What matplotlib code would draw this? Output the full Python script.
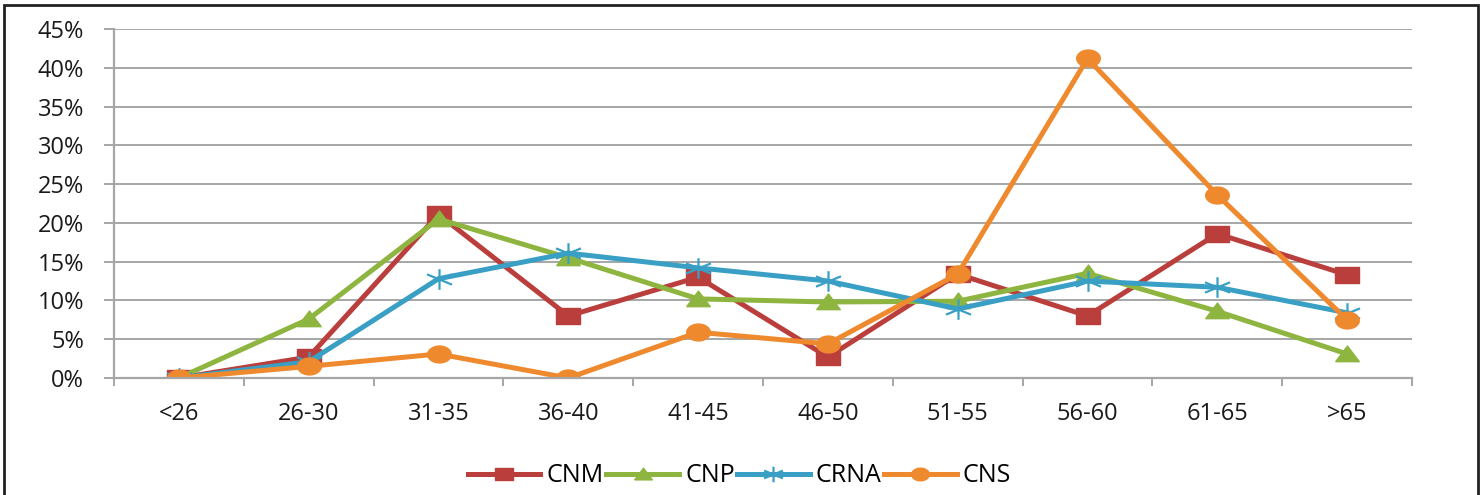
import matplotlib.pyplot as plt
from matplotlib.ticker import PercentFormatter, FixedLocator
from matplotlib.path import Path
import numpy as np

categories = ["<26", "26-30", "31-35", "36-40", "41-45", "46-50", "51-55", "56-60", "61-65", ">65"]
cnm = [0.0, 2.7, 21.1, 8.0, 13.0, 2.7, 13.4, 8.0, 18.6, 13.3]
cnp = [0.0, 7.6, 20.5, 15.5, 10.2, 9.8, 9.9, 13.5, 8.6, 3.1]
crna = [0.0, 2.1, 12.8, 16.1, 14.2, 12.5, 8.9, 12.5, 11.7, 8.4]
cns = [0.0, 1.5, 3.1, 0.0, 5.9, 4.4, 13.4, 41.2, 23.6, 7.5]

plt.rcParams['font.family'] = ['Open Sans', 'DejaVu Sans']

# the source picture is stretched sideways, so the markers are wider than tall
sx = 1.4
def stretched(verts, codes=None):
    v = np.array(verts, dtype=float)
    v[:, 0] *= sx
    return Path(v, codes)

t = np.linspace(0, 2 * np.pi, 40)
m_circle = stretched(np.column_stack([np.cos(t), np.sin(t)]))
m_square = stretched([[-1, -1], [1, -1], [1, 1], [-1, 1], [-1, -1]])
m_tri = stretched([[-1, -0.85], [1, -0.85], [0, 1], [-1, -0.85]])
arms = []
for a in [90, 30, 150]:
    r = np.deg2rad(a)
    arms += [[np.cos(r), np.sin(r)], [-np.cos(r), -np.sin(r)]]
m_star = stretched(arms, [Path.MOVETO, Path.LINETO] * 3)

fig = plt.figure(figsize=(14.82, 4.95), dpi=100)
ax = fig.add_axes([114/1482, 1 - 378/495, (1412-114)/1482, (378-29)/495])

x = np.arange(len(categories))
grey = '#A6A6A6'
ax.yaxis.grid(True, color=grey, linewidth=1.4)
ax.set_axisbelow(True)

lw = 3.6
ax.plot(x, cnm, color='#BA3F3C', lw=lw, marker=m_square, ms=17, label='CNM')
ax.plot(x, cnp, color='#8DB53F', lw=lw, marker=m_tri, ms=17, label='CNP')
ax.plot(x, crna, color='#399FC4', lw=lw, marker=m_star, ms=18, mew=1.6, mfc='none', label='CRNA')
ax.plot(x, cns, color='#EE892E', lw=lw, marker=m_circle, ms=17, label='CNS')

ax.set_xlim(-0.5, len(categories) - 0.5)
ax.set_ylim(0, 45)
ax.set_yticks(np.arange(0, 46, 5))
ax.yaxis.set_major_formatter(PercentFormatter(decimals=0))
ax.set_xticks(x)
ax.set_xticklabels(categories)
ax.xaxis.set_minor_locator(FixedLocator(np.arange(-0.5, len(categories), 1)))
ax.tick_params(axis='x', which='major', length=0, pad=17, labelsize=17, colors='#1A1A1A')
ax.tick_params(axis='x', which='minor', length=6, width=1.4, color=grey)
ax.tick_params(axis='y', length=7.5, width=1.4, color=grey, labelsize=17, labelcolor='#1A1A1A', pad=14)

for s in ['top', 'right']:
    ax.spines[s].set_visible(False)
for s in ['left', 'bottom']:
    ax.spines[s].set_color(grey)
    ax.spines[s].set_linewidth(1.6)

fig.legend(loc='center', bbox_to_anchor=(0.499, 1 - 476/495), ncol=4, frameon=False,
           fontsize=18, handlelength=2.9, handletextpad=0.25, columnspacing=0.1,
           markerscale=0.75)

fig.patches.append(plt.Rectangle((0.003, -0.05), 0.994, 1.04, transform=fig.transFigure,
                                 fill=False, edgecolor='#222222', linewidth=2))

fig.savefig('out.png', dpi=100)
